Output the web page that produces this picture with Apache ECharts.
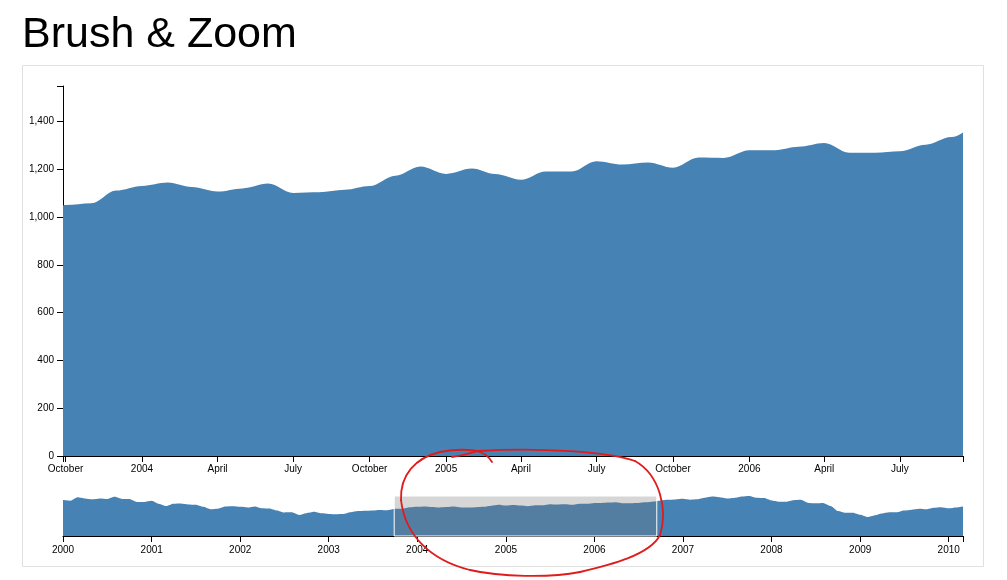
<!DOCTYPE html>
<html>
<head>
<meta charset="utf-8">
<title>Brush & Zoom</title>
<script src="https://cdn.jsdelivr.net/npm/echarts@6/dist/echarts.min.js"></script>
<style>
  html, body { margin: 0; padding: 0; background: #fff; }
  #chart { width: 1007px; height: 580px; }
</style>
</head>
<body>
<div id="chart"></div>
<script>
// monthly closes, one value per month starting Jan 2000
const startYear = 2000;
const prices = [
  1394.46, 1366.42, 1498.58, 1452.43, 1420.6, 1454.6, 1430.83, 1517.68, 1436.51, 1429.4, 1314.95, 1320.28,
  1366.01, 1239.94, 1160.33, 1249.46, 1255.82, 1224.38, 1211.23, 1133.58, 1040.94, 1059.78, 1139.45, 1148.08,
  1130.2, 1106.73, 1147.39, 1076.92, 1067.14, 989.82, 911.62, 916.07, 815.28, 885.76, 936.31, 879.82,
  855.7, 841.15, 848.18, 916.92, 963.59, 974.5, 990.31, 1008.01, 995.97, 1050.71, 1058.2, 1111.92,
  1131.13, 1144.94, 1126.21, 1107.3, 1120.68, 1140.84, 1101.72, 1104.24, 1114.58, 1130.2, 1173.82, 1211.92,
  1181.27, 1203.6, 1180.59, 1156.85, 1191.5, 1191.33, 1234.18, 1220.33, 1228.81, 1207.01, 1249.48, 1248.29,
  1280.08, 1280.66, 1294.87, 1310.61, 1270.09, 1270.2, 1276.66, 1303.82, 1335.85, 1377.94, 1400.63, 1418.3,
  1438.24, 1406.82, 1420.86, 1482.37, 1530.62, 1503.35, 1455.27, 1473.99, 1526.75, 1549.38, 1481.14, 1468.36,
  1378.55, 1330.63, 1322.7, 1385.59, 1400.38, 1280, 1267.38, 1282.83, 1166.36, 968.75, 896.24, 903.25,
  825.88, 735.09, 797.87, 872.81, 919.14, 919.32, 987.48, 1020.62, 1057.08, 1036.19, 1095.63, 1115.1,
  1073.87, 1104.49, 1140.45
];

// brushed window shown in the focus chart
const brushRange = ['2003-09-28', '2006-09-15'];

const yTicks = [0, 200, 400, 600, 800, 1000, 1200, 1400];
const focusTicks = ['2003-10', '2004-01', '2004-04', '2004-07', '2004-10', '2005-01',
  '2005-04', '2005-07', '2005-10', '2006-01', '2006-04', '2006-07'];
const contextTicks = ['2000', '2001', '2002', '2003', '2004', '2005', '2006', '2007', '2008', '2009', '2010'];
const monthNames = ['January', 'February', 'March', 'April', 'May', 'June', 'July',
  'August', 'September', 'October', 'November', 'December'];

// red pen scribble around the brush (x1,y1, cp1, cp2, x2,y2)
const scribble = [
  [478, 451, 540, 447, 610, 452, 635, 461],
  [635, 461, 660, 475, 668, 510, 660, 535],
  [660, 535, 650, 555, 610, 565, 580, 572],
  [580, 572, 550, 578, 500, 577, 470, 570],
  [470, 570, 430, 560, 405, 535, 401, 500],
  [401, 500, 400, 475, 415, 458, 440, 452],
  [440, 452, 455, 449, 472, 449, 480, 452],
  [480, 452, 486, 454, 489, 457, 492, 462],
  [452, 457, 460, 456, 470, 453, 478, 451]
];

function toTime(s) {
  const p = s.split('-').map(Number);
  return new Date(p[0], (p[1] || 1) - 1, p[2] || 1).getTime();
}

const seriesData = prices.map(function (v, i) {
  return [new Date(startYear, i, 1).getTime(), v];
});
const yMax = Math.max.apply(null, prices);
const focusMin = toTime(brushRange[0]);
const focusMax = toTime(brushRange[1]);
const contextMin = seriesData[0][0];
const contextMax = seriesData[seriesData.length - 1][0];

const FONT = 'Liberation Sans, Arial, sans-serif';
const axisText = { fontFamily: FONT, fontSize: 10, color: '#000' };
const black = { lineStyle: { color: '#000', width: 1 } };

let chart = echarts.init(document.getElementById('chart'), null, { renderer: 'canvas' });

let option = {
  animation: false,
  backgroundColor: '#fff',
  grid: [
    { left: 63, top: 86, width: 900, height: 370 },
    { left: 63, top: 496, width: 900, height: 40 }
  ],
  // x axes are linear over timestamps so the tick dates can be listed exactly
  xAxis: [{
    type: 'value', gridIndex: 0, min: focusMin, max: focusMax,
    axisLine: Object.assign({ show: true }, black),
    axisTick: Object.assign({ show: true, length: 6, customValues: [focusMin].concat(focusTicks.map(toTime), [focusMax]) }, black),
    axisLabel: Object.assign({
      margin: 8,
      hideOverlap: false,
      customValues: focusTicks.map(toTime),
      formatter: function (val) {
        const d = new Date(val);
        return d.getMonth() === 0 ? String(d.getFullYear()) : monthNames[d.getMonth()];
      }
    }, axisText),
    splitLine: { show: false }
  }, {
    type: 'value', gridIndex: 1, min: contextMin, max: contextMax,
    axisLine: Object.assign({ show: true }, black),
    axisTick: Object.assign({ show: true, length: 6, customValues: contextTicks.map(toTime).concat([contextMax]) }, black),
    axisLabel: Object.assign({
      margin: 9,
      hideOverlap: false,
      customValues: contextTicks.map(toTime),
      formatter: function (val) { return String(new Date(val).getFullYear()); }
    }, axisText),
    splitLine: { show: false }
  }],
  yAxis: [{
    type: 'value', gridIndex: 0, min: 0, max: yMax,
    axisLine: Object.assign({ show: true }, black),
    axisTick: Object.assign({ show: true, length: 6, customValues: yTicks.concat([yMax]) }, black),
    axisLabel: Object.assign({
      margin: 9,
      customValues: yTicks,
      formatter: function (v) { return v.toLocaleString('en-US'); }
    }, axisText),
    splitLine: { show: false }
  }, {
    type: 'value', gridIndex: 1, min: 0, max: yMax, show: false,
    splitLine: { show: false }
  }],
  series: [{
    type: 'line', xAxisIndex: 0, yAxisIndex: 0,
    data: seriesData,
    smooth: 0.35, smoothMonotone: 'x',
    showSymbol: false, symbol: 'none',
    lineStyle: { width: 0 },
    areaStyle: { color: 'steelblue', opacity: 1 },
    clip: true
  }, {
    type: 'line', xAxisIndex: 1, yAxisIndex: 1,
    data: seriesData,
    smooth: 0.2, smoothMonotone: 'x',
    showSymbol: false, symbol: 'none',
    lineStyle: { width: 0 },
    areaStyle: { color: 'steelblue', opacity: 1 }
  }, {
    // brush selection on the context chart
    type: 'custom', xAxisIndex: 1, yAxisIndex: 1, z: 5,
    data: [[focusMin, focusMax]],
    encode: { x: [0, 1] },
    renderItem: function (params, api) {
      const a = api.coord([api.value(0), 0]);
      const b = api.coord([api.value(1), 0]);
      const cs = params.coordSys;
      return {
        type: 'rect',
        shape: { x: a[0], y: cs.y, width: b[0] - a[0], height: cs.height },
        style: { fill: 'rgba(119,119,119,0.3)', stroke: '#fff', lineWidth: 1 }
      };
    }
  }],
  graphic: [{
    type: 'text', x: 22, y: 14,
    style: { text: 'Brush & Zoom', font: '43px ' + FONT, fill: '#000' }
  }, {
    type: 'rect', z: -1,
    shape: { x: 22.5, y: 65.5, width: 961, height: 501 },
    style: { fill: 'none', stroke: '#e0e0e0', lineWidth: 1 }
  }].concat(scribble.map(function (s) {
    return {
      type: 'bezierCurve', z: 100,
      shape: { x1: s[0], y1: s[1], cpx1: s[2], cpy1: s[3], cpx2: s[4], cpy2: s[5], x2: s[6], y2: s[7] },
      style: { fill: null, stroke: '#e01b1b', lineWidth: 1.8, lineCap: 'round' }
    };
  }))
};

chart.setOption(option);
</script>
</body>
</html>
